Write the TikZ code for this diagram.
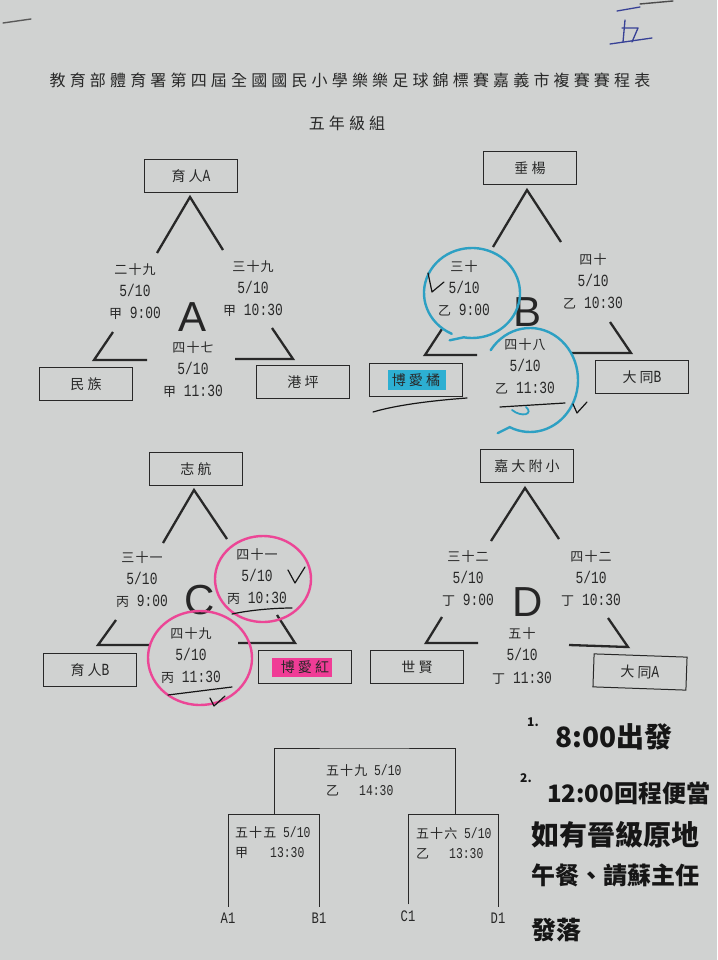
\documentclass[tikz,border=0pt]{standalone}
\usepackage{fontspec}
\setmainfont{Liberation Mono}[FakeStretch=0.76]
\setsansfont{Liberation Sans}
\newfontfamily\cjk{Noto Sans CJK TC}[LetterSpace=8]
\newfontfamily\cjkwide{Noto Sans CJK TC}[LetterSpace=22]
\newfontfamily\cjktitle{Noto Sans CJK TC}[LetterSpace=26]
\newfontfamily\hand{Noto Sans CJK TC}
\newcommand\hanzi[1]{{\cjk\fontsize{13pt}{22pt}\selectfont #1}}
\definecolor{paper}{RGB}{208,210,209}
\definecolor{ink}{RGB}{40,40,40}
\definecolor{pen}{RGB}{22,22,22}
\definecolor{markblue}{RGB}{45,160,195}
\definecolor{markpink}{RGB}{236,70,150}
\definecolor{hlblue}{RGB}{45,175,210}
\definecolor{hlpink}{RGB}{240,60,150}
\definecolor{bluepen}{RGB}{55,65,150}

\tikzset{
   team/.style={draw=ink, line width=1pt, minimum width=93pt, minimum height=33pt, inner sep=0pt, text=ink, font=\cjkwide\fontsize{14pt}{16pt}\selectfont},
   match/.style={align=center, text=ink, inner sep=0pt, font=\fontsize{17pt}{22pt}\selectfont},
   pool/.style={text=black!85, inner sep=0pt, font=\sffamily\fontsize{42pt}{42pt}\selectfont},
   arm/.style={draw=ink, line width=2.3pt},
   bracketline/.style={draw=ink, line width=0.9pt},
   game/.style={text=ink, anchor=west, align=left, inner sep=0pt, font=\fontsize{15pt}{20pt}\selectfont},
   seed/.style={text=ink, inner ysep=6pt, font=\fontsize{16pt}{16pt}\selectfont},
   note/.style={text=pen, anchor=west, inner sep=0pt},
   ring/.style={line width=2.4pt, line cap=round},
   tick/.style={draw=pen, line width=1.2pt, line cap=round, line join=round}
}

\begin{document}
\begin{tikzpicture}[x=1pt, y=-1pt]
   \useasboundingbox (0,0) rectangle (717,960);
   \fill[paper] (0,0) rectangle (717,960);

   \node[text=ink, font=\cjktitle\fontsize{16pt}{16pt}\selectfont] (title) at (350,80) {教育部體育署第四屆全國國民小學樂樂足球錦標賽嘉義市複賽賽程表};
   \node[text=ink, font=\cjktitle\fontsize{16pt}{16pt}\selectfont] (grade) at (347,123) {五年級組};

   \node[team] (yurenA) at (191,176) {育人{\rmfamily\fontsize{17pt}{17pt}\selectfont A}};
   \node[team] (minzu) at (86,384) {民族};
   \node[team] (gangping) at (303,382) {港坪};
   \node[pool] (poolA) at (193,317) {A};
   \node[match] (m29) at (135,292) {\hanzi{二十九}\\5/10\\\hanzi{甲} 9:00};
   \node[match] (m39) at (253,289) {\hanzi{三十九}\\5/10\\\hanzi{甲} 10:30};
   \node[match] (m47) at (193,370) {\hanzi{四十七}\\5/10\\\hanzi{甲}\ 11:30};
   \coordinate (a1) at (157,253); \coordinate (a2) at (190,197); \coordinate (a3) at (223,250);
   \coordinate (a4) at (113,332); \coordinate (a5) at (94,360);  \coordinate (a6) at (147,360);
   \coordinate (a7) at (235,359); \coordinate (a8) at (293,359); \coordinate (a9) at (272,328);
   \draw[arm] (a1) -- (a2) -- (a3);
   \draw[arm] (a4) -- (a5) -- (a6);
   \draw[arm] (a7) -- (a8) -- (a9);

   \fill[hlblue] (388,370) rectangle (446,390);
   \node[team] (chuiyang) at (530,168) {垂楊};
   \node[team] (boaiju) at (416,380) {博愛橘};
   \node[team] (datongB) at (642,377) {大同{\rmfamily\fontsize{17pt}{17pt}\selectfont B}};
   \node[pool] (poolB) at (527,312) {B};
   \node[match] (m30) at (464,288) {\hanzi{三十}\\5/10\\\hanzi{乙} 9:00};
   \node[match] (m40) at (593,281) {\hanzi{四十}\\5/10\\\hanzi{乙} 10:30};
   \node[match] (m48) at (525,366) {\hanzi{四十八}\\5/10\\\hanzi{乙}\ 11:30};
   \coordinate (b1) at (493,247); \coordinate (b2) at (527,190); \coordinate (b3) at (561,242);
   \coordinate (b4) at (442,329); \coordinate (b5) at (425,355); \coordinate (b6) at (477,355);
   \coordinate (b7) at (571,353); \coordinate (b8) at (631,353); \coordinate (b9) at (610,322);
   \draw[arm] (b1) -- (b2) -- (b3);
   \draw[arm] (b4) -- (b5) -- (b6);
   \draw[arm] (b7) -- (b8) -- (b9);

   \fill[hlpink] (272,658) rectangle (332,677);
   \node[team] (zhihang) at (196,469) {志航};
   \node[team] (yurenB) at (90,670) {育人{\rmfamily\fontsize{17pt}{17pt}\selectfont B}};
   \node[team] (boaihong) at (305,667) {博愛紅};
   \node[pool] (poolC) at (200,600) {C};
   \node[match] (m31) at (142,580) {\hanzi{三十一}\\5/10\\\hanzi{丙} 9:00};
   \node[match] (m41) at (257,577) {\hanzi{四十一}\\5/10\\\hanzi{丙} 10:30};
   \node[match] (m49) at (191,656) {\hanzi{四十九}\\5/10\\\hanzi{丙}\ 11:30};
   \coordinate (c1) at (163,543); \coordinate (c2) at (194,490); \coordinate (c3) at (227,539);
   \coordinate (c4) at (116,620); \coordinate (c5) at (98,645);  \coordinate (c6) at (150,645);
   \coordinate (c7) at (238,643); \coordinate (c8) at (295,643); \coordinate (c9) at (277,615);
   \draw[arm] (c1) -- (c2) -- (c3);
   \draw[arm] (c4) -- (c5) -- (c6);
   \draw[arm] (c7) -- (c8) -- (c9);

   \node[team] (jiada) at (527,466) {嘉大附小};
   \node[team] (shixian) at (417,667) {世賢};
   \node[team, rotate=-2] (datongA) at (640,672) {大同{\rmfamily\fontsize{17pt}{17pt}\selectfont A}};
   \node[pool] (poolD) at (528,602) {D};
   \node[match] (m32) at (468,579) {\hanzi{三十二}\\5/10\\\hanzi{丁} 9:00};
   \node[match] (m42) at (591,579) {\hanzi{四十二}\\5/10\\\hanzi{丁} 10:30};
   \node[match] (m50) at (522,656) {\hanzi{五十}\\5/10\\\hanzi{丁}\ 11:30};
   \coordinate (d1) at (491,541); \coordinate (d2) at (525,488); \coordinate (d3) at (559,539);
   \coordinate (d4) at (442,617); \coordinate (d5) at (426,643); \coordinate (d6) at (478,643);
   \coordinate (d7) at (569,645); \coordinate (d8) at (628,647); \coordinate (d9) at (608,618);
   \draw[arm] (d1) -- (d2) -- (d3);
   \draw[arm] (d4) -- (d5) -- (d6);
   \draw[arm] (d7) -- (d8) -- (d9);

   \node[seed] (A1) at (228,918) {A1};
   \node[seed] (B1) at (319,918) {B1};
   \node[seed] (C1) at (408,916) {C1};
   \node[seed] (D1) at (498,918) {D1};
   \coordinate (f55) at (274,814);
   \coordinate (f56) at (455,814);
   \coordinate (f59) at (364,748);
   \draw[bracketline] (A1.north) |- (f55) -| (B1.north);
   \draw[bracketline] (C1.north) |- (f56) -| (D1.north);
   \draw[bracketline] (f55) |- (f59) -| (f56);
   \node[game] (g59) at (326,780) {\hanzi{五十九} 5/10\\\hanzi{乙}\hspace{20pt}14:30};
   \node[game] (g55) at (235,843) {\hanzi{五十五} 5/10\\\hanzi{甲}\hspace{22pt}13:30};
   \node[game] (g56) at (416,843) {\hanzi{五十六} 5/10\\\hanzi{乙}\hspace{20pt}13:30};

   \draw[ring, markblue] (472,293) ++(115:48 and 45) arc[start angle=115, end angle=460, x radius=48, y radius=45] -- ++(-14,3);
   \draw[ring, markblue] (530,380) ++(215:48 and 52) arc[start angle=215, end angle=475, x radius=48, y radius=52] -- ++(-12,6);
   \draw[ring, markblue, line width=1.8pt] (512,410) .. controls (522,418) and (534,414) .. (526,407);
   \draw[ring, markpink] (263,579) ++(130:48 and 43) arc[start angle=130, end angle=500, x radius=48, y radius=43];
   \draw[ring, markpink] (200,658) ++(300:52 and 47) arc[start angle=300, end angle=665, x radius=52, y radius=47];

   \draw[tick] (428,273) -- (432,292) -- (444,282);
   \draw[tick] (573,404) -- (577,413) -- (587,402);
   \draw[tick] (500,407) -- (565,403);
   \draw[tick] (373,412) .. controls (400,404) and (440,400) .. (467,398);
   \draw[tick] (288,570) -- (295,583) -- (305,567);
   \draw[tick] (232,614) .. controls (250,610) and (275,608) .. (292,608);
   \draw[tick] (168,695) -- (232,687);
   \draw[tick] (210,698) -- (214,706) -- (225,696);

   \draw[bluepen, line width=1.3pt, line cap=round] (617,11) -- (640,7);
   \draw[bluepen, line width=1.3pt, line cap=round] (625,20) -- (623,42);
   \draw[bluepen, line width=1.3pt, line cap=round, line join=round] (622,28) -- (638,28) -- (632,42);
   \draw[bluepen, line width=1.3pt, line cap=round] (610,44) -- (652,38);
   \draw[black!70, line width=1.4pt, line cap=round] (640,4) -- (673,1);
   \draw[black!65, line width=1.4pt, line cap=round] (3,23) -- (31,19);

   \node[note, font=\hand\bfseries\fontsize{12pt}{12pt}\selectfont] (n1) at (527,722) {1.};
   \node[note, font=\hand\bfseries\fontsize{28pt}{28pt}\selectfont] (t1) at (555,737) {8:00出發};
   \node[note, font=\hand\bfseries\fontsize{12pt}{12pt}\selectfont] (n2) at (520,778) {2.};
   \node[note, font=\hand\bfseries\fontsize{24pt}{24pt}\selectfont] (t2) at (547,793) {12:00回程便當};
   \node[note, font=\hand\bfseries\fontsize{28pt}{28pt}\selectfont] (t3) at (531,835) {如有晉級原地};
   \node[note, font=\hand\bfseries\fontsize{24pt}{24pt}\selectfont] (t4) at (531,875) {午餐、請蘇主任};
   \node[note, font=\hand\bfseries\fontsize{25pt}{25pt}\selectfont] (t5) at (531,930) {發落};
\end{tikzpicture}
\end{document}
